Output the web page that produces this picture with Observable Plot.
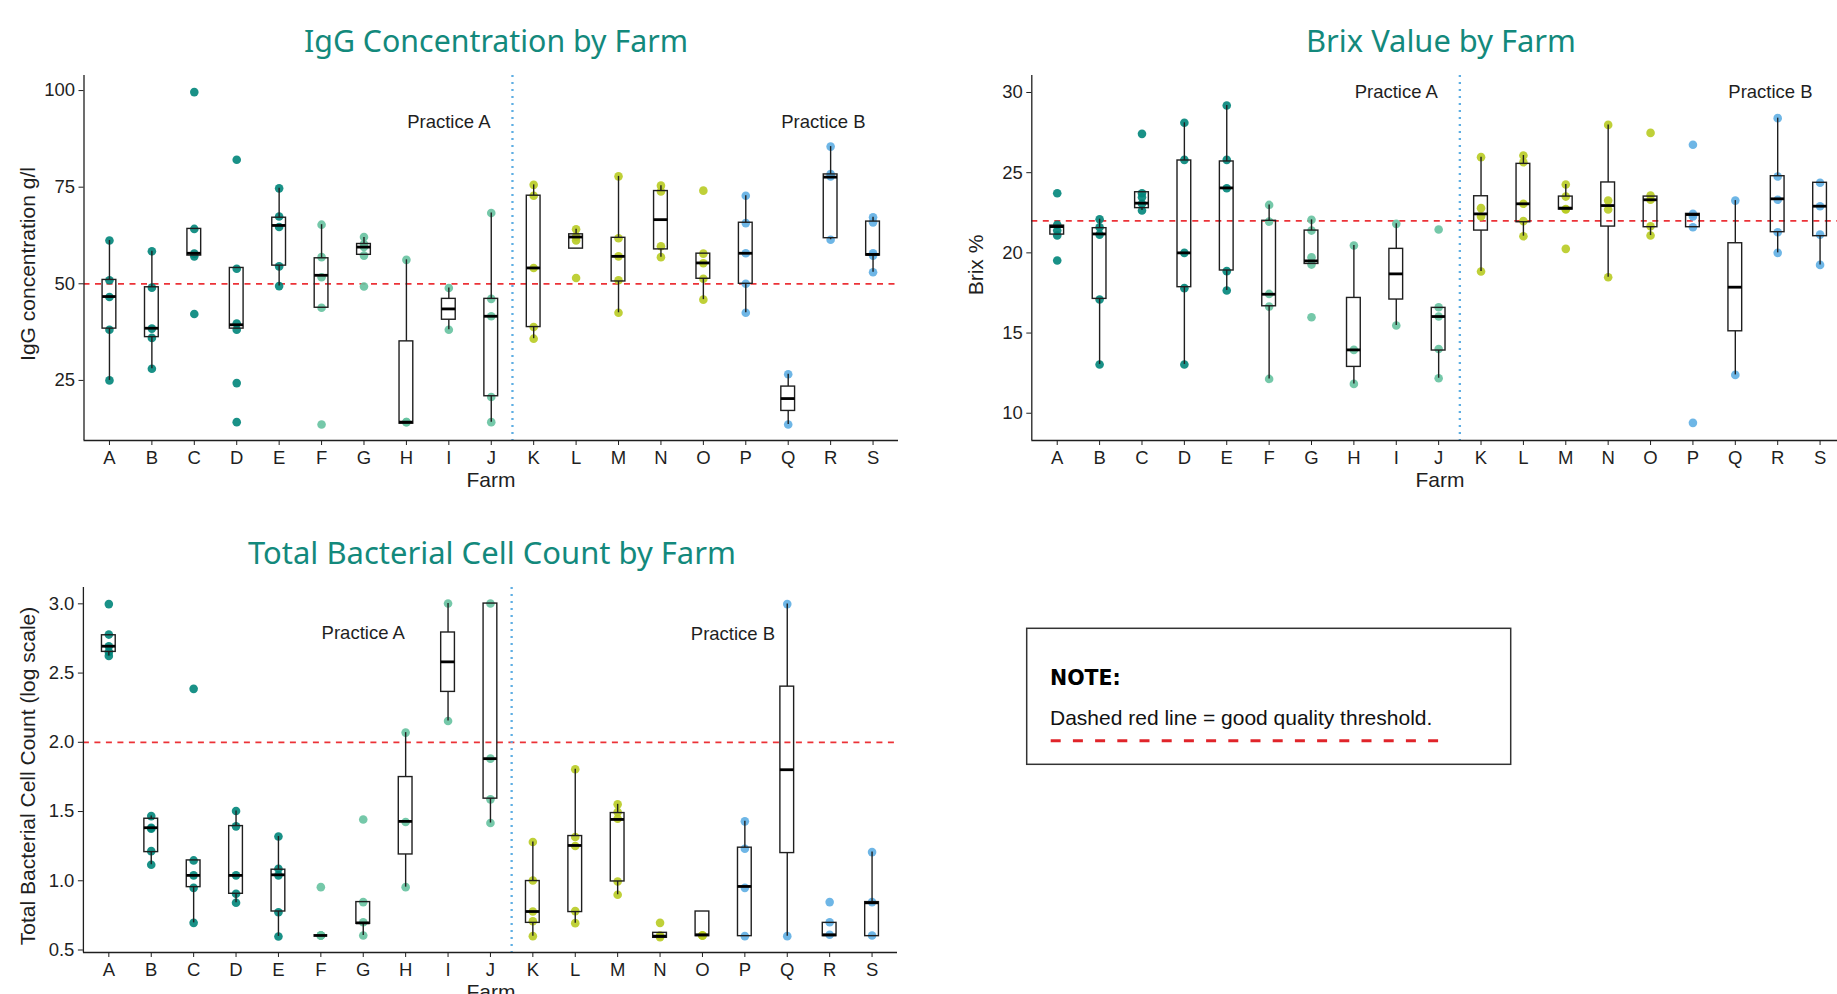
<!DOCTYPE html>
<html>
<head>
<meta charset="utf-8">
<script src="https://cdn.jsdelivr.net/npm/d3@7"></script>
<script src="https://cdn.jsdelivr.net/npm/@observablehq/plot@0.6"></script>
<style>
  html, body { margin: 0; padding: 0; width: 1837px; height: 994px; overflow: hidden; background: #fff; }
  .panel { position: absolute; }
  .panel svg { max-width: none !important; }
  #overlay { position: absolute; left: 0; top: 0; pointer-events: none; }
</style>
</head>
<body>
<div id="igg" class="panel" style="left:0px;top:60px;width:910px"></div>
<div id="brix" class="panel" style="left:950px;top:60px;width:905px"></div>
<div id="tbc" class="panel" style="left:0px;top:572px;width:909px"></div>
<svg id="overlay" width="1837" height="994"></svg>
<script>
// ---------------- data ----------------
const farms = ["A","B","C","D","E","F","G","H","I","J","K","L","M","N","O","P","Q","R","S"];
const farmGroup = [0,0,0,0,0, 1,1,1,1,1, 2,2,2,2,2, 3,3,3,3];
const groupColors = ["#00857a", "#66c2a0", "#b8cb22", "#5eaee3"];

// IgG concentration g/l
const iggPoints = [
  [61.2, 50.9, 46.6, 38.1, 25.0],
  [58.4, 49.0, 38.4, 36.0, 28.0],
  [99.6, 64.2, 57.8, 57.1, 42.2],
  [82.1, 53.9, 39.7, 38.1, 24.3, 14.2],
  [74.7, 67.4, 64.7, 54.5, 49.4],
  [65.3, 56.9, 51.7, 43.8, 13.6],
  [62.1, 60.3, 59.5, 57.3, 49.3],
  [56.2, 14.2, 14.2],
  [48.9, 38.1],
  [68.3, 46.1, 41.6, 20.7, 14.2],
  [75.6, 72.8, 54.1, 38.8, 35.8],
  [64.1, 62.2, 61.2, 51.5],
  [77.8, 61.8, 57.1, 50.9, 42.5],
  [75.4, 73.9, 59.7, 56.9],
  [74.1, 57.8, 55.3, 51.3, 45.9],
  [72.8, 65.7, 57.9, 50.0, 42.5],
  [26.6, 13.6],
  [85.5, 78.4, 77.8, 61.4],
  [67.2, 65.9, 57.9, 57.3, 53.0]
];
const iggLo  = [25.0, 28.0, 57.3, 38.4, 49.4, 43.8, 57.5, 13.8, 38.1, 14.2, 35.8, 59.1, 42.5, 56.9, 45.9, 42.5, 13.6, 61.4, 53.0];
const iggQ1  = [38.4, 36.2, 57.3, 38.4, 54.7, 43.8, 57.5, 13.8, 40.7, 20.9, 38.8, 59.1, 50.6, 58.9, 51.3, 50.0, 17.1, 61.8, 57.3];
const iggMed = [46.7, 38.5, 57.9, 39.4, 65.1, 52.2, 59.5, 14.2, 43.5, 41.6, 54.1, 62.1, 57.1, 66.6, 55.4, 57.9, 20.3, 77.6, 57.6];
const iggQ3  = [51.0, 49.1, 64.2, 54.1, 67.1, 56.6, 60.3, 35.1, 46.1, 46.1, 72.8, 62.8, 61.9, 74.0, 57.8, 65.8, 23.4, 78.3, 66.1];
const iggHi  = [61.2, 58.4, 64.2, 54.1, 74.7, 65.3, 62.0, 56.2, 48.9, 68.3, 75.6, 64.1, 77.8, 75.4, 57.8, 72.8, 26.6, 85.5, 67.2];

// Brix %
const brixPoints = [
  [23.72, 21.75, 21.39, 21.08, 19.52],
  [22.10, 21.60, 21.14, 17.09, 13.04],
  [27.42, 23.72, 23.47, 23.06, 22.64],
  [28.11, 25.80, 20.00, 17.80, 13.04],
  [29.19, 25.80, 24.03, 18.86, 17.65],
  [22.99, 21.95, 17.44, 16.65, 12.14],
  [22.06, 21.39, 19.73, 19.27, 15.99],
  [20.46, 13.95, 11.83],
  [21.81, 15.47],
  [21.46, 16.61, 16.03, 14.01, 12.18],
  [25.97, 22.79, 22.27, 18.84],
  [26.07, 25.65, 23.06, 21.98, 21.04],
  [24.26, 23.51, 22.74, 22.70, 20.25],
  [27.98, 23.26, 22.70, 18.48],
  [27.48, 23.58, 23.31, 21.66, 21.08],
  [26.74, 22.43, 22.27, 21.60, 9.40],
  [23.26, 12.39],
  [28.40, 24.76, 23.31, 21.29, 20.00],
  [24.37, 22.91, 21.14, 19.25]
];
const brixLo  = [21.14, 13.04, 22.64, 13.04, 17.65, 12.14, 19.31, 11.83, 15.47, 12.18, 18.84, 21.04, 22.70, 18.48, 21.08, 21.60, 12.39, 20.00, 19.25];
const brixQ1  = [21.14, 17.13, 22.79, 17.86, 18.90, 16.67, 19.31, 12.89, 17.09, 13.91, 21.39, 21.91, 22.70, 21.64, 21.60, 21.60, 15.11, 21.29, 21.04];
const brixMed = [21.64, 21.18, 23.10, 20.00, 24.05, 17.42, 19.50, 13.95, 18.69, 16.03, 22.43, 23.06, 22.79, 22.95, 23.31, 22.39, 17.86, 23.37, 22.91];
const brixQ3  = [21.70, 21.54, 23.78, 25.76, 25.70, 22.00, 21.39, 17.19, 20.25, 16.57, 23.53, 25.55, 23.51, 24.39, 23.51, 22.43, 20.60, 24.78, 24.37];
const brixHi  = [21.70, 22.10, 23.78, 28.11, 29.19, 22.99, 22.06, 20.46, 21.81, 16.57, 25.97, 26.07, 24.26, 27.98, 23.51, 22.43, 23.26, 28.40, 24.37];

// Total bacterial cell count (log scale)
const tbcPoints = [
  [2.998, 2.778, 2.694, 2.653, 2.624],
  [1.467, 1.383, 1.376, 1.214, 1.116],
  [2.386, 1.147, 1.039, 0.949, 0.696],
  [1.504, 1.393, 1.039, 0.906, 0.841],
  [1.320, 1.087, 1.039, 0.773, 0.598],
  [0.954, 0.605, 0.605, 0.605, 0.605],
  [1.443, 0.846, 0.701, 0.605],
  [2.070, 1.424, 0.954],
  [3.002, 2.154],
  [3.002, 1.882, 1.588, 1.417],
  [1.280, 1.002, 0.778, 0.708, 0.600],
  [1.805, 1.316, 1.251, 0.781, 0.694],
  [1.552, 1.496, 1.448, 0.995, 0.899],
  [0.696, 0.605, 0.593],
  [0.605, 0.605, 0.605],
  [1.429, 1.231, 0.949, 0.600],
  [2.998, 0.600],
  [0.846, 0.701, 0.610],
  [1.207, 0.846, 0.605]
];
const tbcLo  = [2.624, 1.116, 0.696, 0.841, 0.598, 0.605, 0.605, 0.954, 2.154, 1.417, 0.600, 0.694, 0.899, 0.588, 0.600, 0.600, 0.600, 0.600, 0.600];
const tbcQ1  = [2.653, 1.207, 0.954, 0.906, 0.778, 0.605, 0.689, 1.190, 2.364, 1.593, 0.696, 0.774, 0.995, 0.588, 0.600, 0.600, 1.200, 0.600, 0.600];
const tbcMed = [2.694, 1.383, 1.039, 1.039, 1.043, 0.605, 0.696, 1.429, 2.581, 1.882, 0.778, 1.255, 1.443, 0.600, 0.610, 0.959, 1.802, 0.610, 0.841];
const tbcQ3  = [2.773, 1.448, 1.147, 1.395, 1.080, 0.605, 0.846, 1.749, 2.793, 3.002, 0.998, 1.323, 1.489, 0.624, 0.778, 1.239, 2.402, 0.696, 0.846];
const tbcHi  = [2.778, 1.467, 1.147, 1.504, 1.320, 0.605, 0.846, 2.070, 3.002, 3.002, 1.280, 1.805, 1.552, 0.624, 0.778, 1.429, 2.998, 0.696, 1.207];

// thresholds, tick labels, annotations
const iggThreshold = 50, brixThreshold = 22, tbcThreshold = 2.0;
const practiceDivider = 10.5;
const iggTicks = [25, 50, 75, 100];
const brixTicks = [10, 15, 20, 25, 30];
const tbcTicks = [0.5, 1.0, 1.5, 2.0, 2.5, 3.0];
const practiceText = ["Practice A", "Practice B"];
const iggLabelX = [9, 17.83],  iggLabelY = [91.8, 91.8];
const brixLabelX = [9, 17.83], brixLabelY = [30.0, 30.0];
const tbcLabelX = [7, 15.72],  tbcLabelY = [2.79, 2.785];

// ---------------- drawing ----------------
const HALF = 0.162;
const INK = "#1f1f1f";

function panel(cfg) {
  const pts = cfg.points.flatMap((vals, i) =>
    vals.map(v => ({farm: i + 1, value: v, color: groupColors[farmGroup[i]]})));
  const boxes = farms.map((f, i) => ({
    farm: i + 1, lo: cfg.lo[i], q1: cfg.q1[i], med: cfg.med[i], q3: cfg.q3[i], hi: cfg.hi[i]
  }));
  const labels = practiceText.map((t, i) => ({text: t, x: cfg.labelX[i], y: cfg.labelY[i]}));
  return Plot.plot({
    width: cfg.width, height: 440,
    marginTop: 15, marginBottom: 60, marginLeft: cfg.marginLeft, marginRight: cfg.marginRight,
    x: {domain: [0.4, 19.6]},
    y: {domain: cfg.yDomain},
    color: {type: "identity"},
    style: {fontFamily: "'Liberation Sans', Arial, sans-serif", fontSize: "18.5px", color: INK,
      background: "transparent", overflow: "visible", maxWidth: "none"},
    marks: [
      Plot.ruleY([cfg.threshold], {stroke: "#ec3237", strokeWidth: 1.7, strokeDasharray: "6,5.5"}),
      Plot.ruleX([practiceDivider], {stroke: "#5eaee3", strokeWidth: 2.3, strokeDasharray: "2,5"}),
      Plot.dot(pts, {x: "farm", y: "value", r: 4.3, fill: "color", fillOpacity: 0.9, stroke: null}),
      Plot.ruleX(boxes, {x: "farm", y1: "lo", y2: "q1", stroke: INK, strokeWidth: 1.4}),
      Plot.ruleX(boxes, {x: "farm", y1: "q3", y2: "hi", stroke: INK, strokeWidth: 1.4}),
      Plot.rect(boxes, {x1: d => d.farm - HALF, x2: d => d.farm + HALF, y1: "q1", y2: "q3",
        fill: "none", stroke: INK, strokeWidth: 1.4}),
      Plot.ruleY(boxes, {y: "med", x1: d => d.farm - HALF, x2: d => d.farm + HALF, stroke: "#000", strokeWidth: 2.8}),
      Plot.text(labels, {x: "x", y: "y", text: "text", fontSize: 18.5, fill: INK}),
      Plot.ruleX([0.4], {stroke: INK, strokeWidth: 1.3}),
      Plot.ruleY([cfg.yDomain[0]], {stroke: INK, strokeWidth: 1.3}),
      Plot.axisX({ticks: farms.map((f, i) => i + 1), tickFormat: d => farms[d - 1],
        tickSize: 5, tickPadding: 5, label: null, stroke: INK}),
      Plot.axisY({ticks: cfg.yTicks, tickFormat: cfg.yFormat, tickSize: 5, tickPadding: 4, label: null, stroke: INK})
    ]
  });
}

document.getElementById("igg").append(panel({
  points: iggPoints, lo: iggLo, q1: iggQ1, med: iggMed, q3: iggQ3, hi: iggHi,
  yDomain: [9.45, 103.9], yTicks: iggTicks, yFormat: d3.format("d"), threshold: iggThreshold,
  labelX: iggLabelX, labelY: iggLabelY, width: 910, marginLeft: 83.5, marginRight: 12
}));
document.getElementById("brix").append(panel({
  points: brixPoints, lo: brixLo, q1: brixQ1, med: brixMed, q3: brixQ3, hi: brixHi,
  yDomain: [8.3, 31.06], yTicks: brixTicks, yFormat: d3.format("d"), threshold: brixThreshold,
  labelX: brixLabelX, labelY: brixLabelY, width: 905, marginLeft: 81.3, marginRight: 10
}));
document.getElementById("tbc").append(panel({
  points: tbcPoints, lo: tbcLo, q1: tbcQ1, med: tbcMed, q3: tbcQ3, hi: tbcHi,
  yDomain: [0.482, 3.118], yTicks: tbcTicks, yFormat: d3.format(".1f"), threshold: tbcThreshold,
  labelX: tbcLabelX, labelY: tbcLabelY, width: 909, marginLeft: 82.9, marginRight: 12
}));

// ---------------- titles, axis titles and note ----------------
const ov = d3.select("#overlay");
const titles = [
  {text: "IgG Concentration by Farm", x: 496, y: 51.7, w: 384},
  {text: "Brix Value by Farm", x: 1441, y: 51.7, w: 270},
  {text: "Total Bacterial Cell Count by Farm", x: 492, y: 563.7, w: 488}
];
titles.forEach(t => ov.append("text")
  .attr("x", t.x).attr("y", t.y).attr("text-anchor", "middle")
  .attr("font-family", "'Noto Sans', 'Open Sans', sans-serif").attr("font-size", 31)
  .attr("fill", "#13897c")
  .attr("textLength", t.w).attr("lengthAdjust", "spacingAndGlyphs")
  .text(t.text));

const axisFont = "'Liberation Sans', Arial, sans-serif";
const yTitles = [
  {text: "IgG concentration g/l", x: 35, y: 264},
  {text: "Brix %", x: 983, y: 265},
  {text: "Total Bacterial Cell Count (log scale)", x: 35, y: 776}
];
yTitles.forEach(t => ov.append("text")
  .attr("transform", `translate(${t.x},${t.y}) rotate(-90)`).attr("text-anchor", "middle")
  .attr("font-family", axisFont).attr("font-size", 21).attr("fill", INK).text(t.text));
const xTitles = [
  {text: "Farm", x: 491, y: 486.7},
  {text: "Farm", x: 1440, y: 486.7},
  {text: "Farm", x: 491, y: 999}
];
xTitles.forEach(t => ov.append("text")
  .attr("x", t.x).attr("y", t.y).attr("text-anchor", "middle")
  .attr("font-family", axisFont).attr("font-size", 21).attr("fill", INK).text(t.text));

// note box
ov.append("rect").attr("x", 1026.7).attr("y", 628.3).attr("width", 484).attr("height", 136)
  .attr("fill", "none").attr("stroke", "#333").attr("stroke-width", 1.5);
ov.append("text").attr("x", 1050).attr("y", 685)
  .attr("font-family", "'DejaVu Sans', sans-serif").attr("font-weight", "bold").attr("font-size", 20.5)
  .attr("fill", "#000").text("NOTE:");
ov.append("text").attr("x", 1050).attr("y", 725)
  .attr("font-family", axisFont).attr("font-size", 21).attr("fill", "#111")
  .text("Dashed red line = good quality threshold.");
ov.append("line").attr("x1", 1050.7).attr("x2", 1440).attr("y1", 740.7).attr("y2", 740.7)
  .attr("stroke", "#e0242a").attr("stroke-width", 3).attr("stroke-dasharray", "10,12.2");
</script>
</body>
</html>
